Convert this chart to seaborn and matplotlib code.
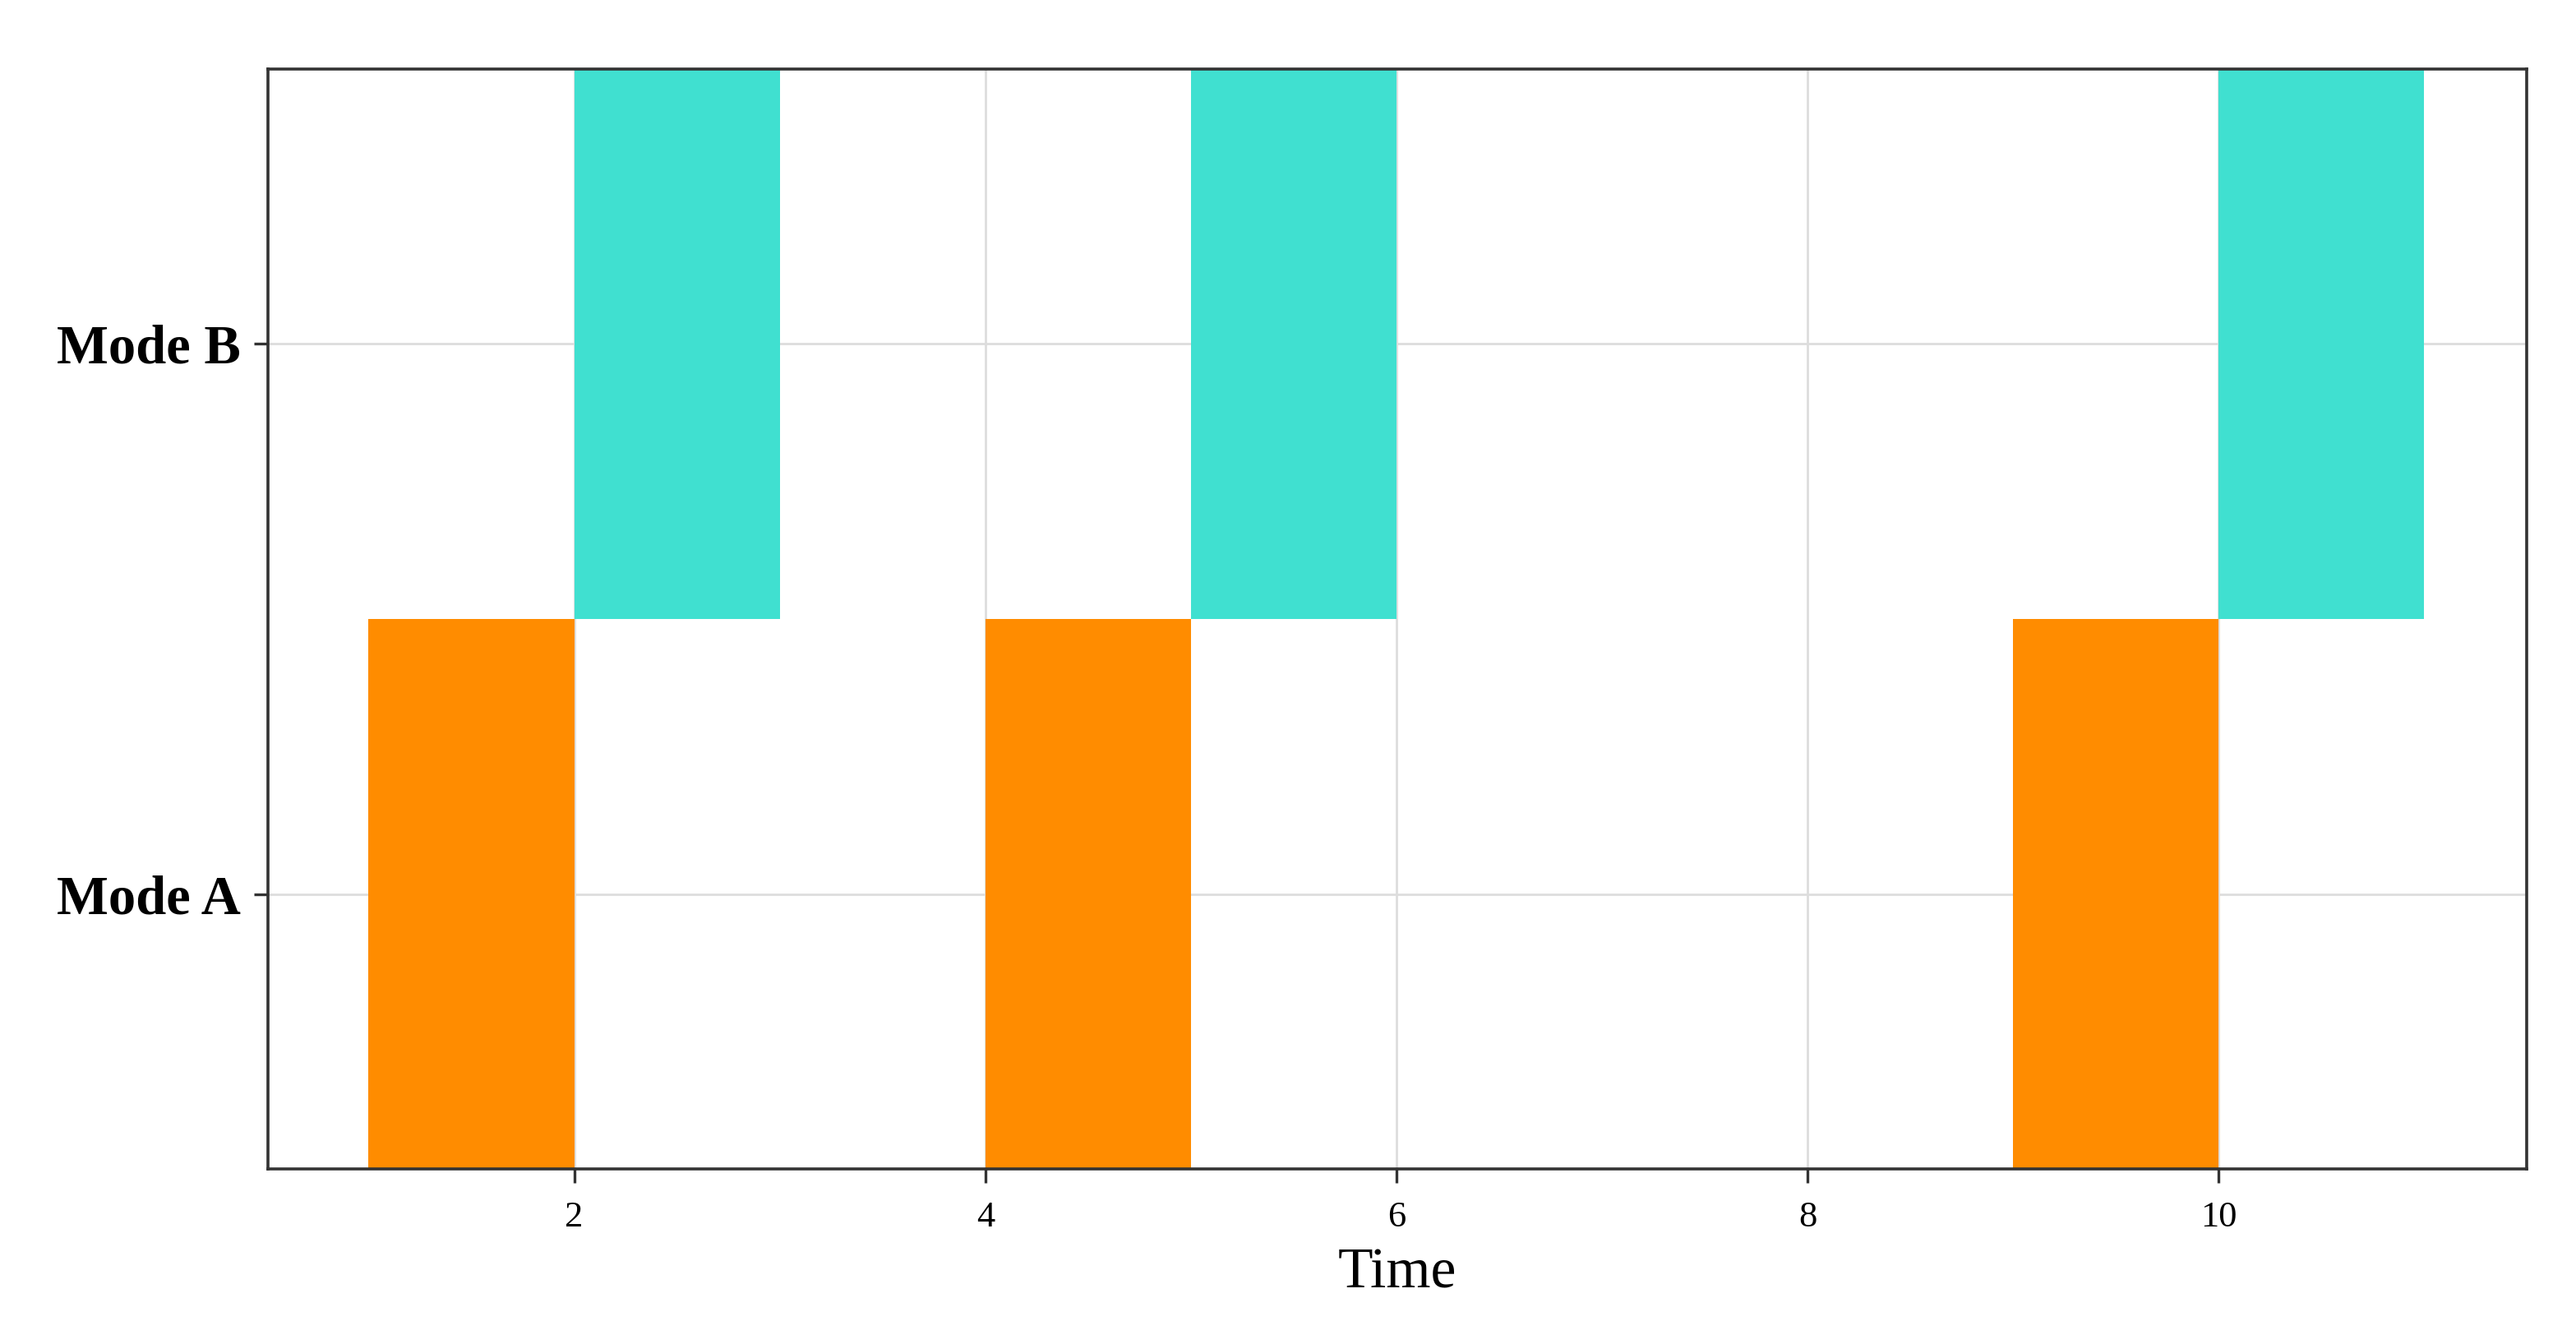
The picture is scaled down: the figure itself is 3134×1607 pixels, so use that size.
import matplotlib
matplotlib.use("Agg")
import matplotlib.pyplot as plt
import seaborn as sns
import pandas as pd

# task schedule: one row per block
modes = ["Mode A", "Mode A", "Mode A", "Mode B", "Mode B", "Mode B"]
starts = [1, 4, 9, 2, 5, 10]
durations = [1, 1, 1, 1, 1, 1]
mode_order = ["Mode A", "Mode B"]
mode_colors = {"Mode A": "#FF8C00", "Mode B": "#40E0D0"}

df = pd.DataFrame({"Mode": modes, "Start": starts, "Duration": durations})
df["Row"] = df["Mode"].map({m: i for i, m in enumerate(mode_order)})

sns.set_theme(style="whitegrid")
plt.rcParams["font.family"] = ["Liberation Serif", "DejaVu Serif"]
plt.rcParams["text.color"] = "black"
plt.rcParams["xtick.color"] = "black"
plt.rcParams["ytick.color"] = "black"
plt.rcParams["axes.labelcolor"] = "black"

fig = plt.figure(figsize=(15.67, 8.035), dpi=200)
ax = fig.add_axes([0.104, 0.115, 0.877, 0.833])

for mode in mode_order:
    sub = df[df["Mode"] == mode]
    ax.barh(sub["Row"], sub["Duration"], left=sub["Start"], height=1.0,
            color=mode_colors[mode], linewidth=0, zorder=2)

ax.set_xlim(0.51, 11.5)
ax.set_ylim(-0.5, 1.5)
ax.set_xticks([2, 4, 6, 8, 10])
ax.set_yticks(range(len(mode_order)))
ax.set_yticklabels(mode_order, fontsize=24, fontweight="bold")
ax.tick_params(axis="x", labelsize=16, length=6, width=1.2, color="#333333",
               direction="out", bottom=True, pad=8)
ax.tick_params(axis="y", length=6, width=1.2, color="#333333",
               direction="out", left=True, pad=6)
ax.set_xlabel("Time", fontsize=25, labelpad=6)
ax.set_ylabel("")

ax.grid(True, color="#dddddd", linewidth=1.0, zorder=0)
ax.set_axisbelow(True)
for side in ["left", "right", "top", "bottom"]:
    ax.spines[side].set_visible(True)
    ax.spines[side].set_color("#333333")
    ax.spines[side].set_linewidth(1.3)
    ax.spines[side].set_zorder(5)

fig.savefig("out.png", dpi=200, facecolor="white")
plt.close(fig)
